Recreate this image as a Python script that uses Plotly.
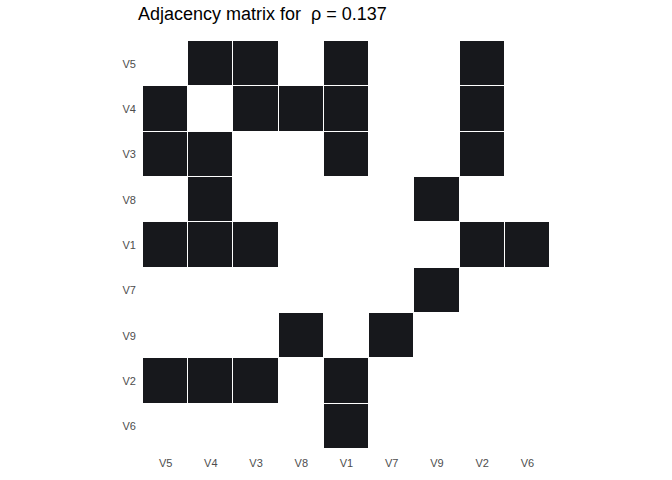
import plotly.graph_objects as go

labels = ["V5", "V4", "V3", "V8", "V1", "V7", "V9", "V2", "V6"]
# rows top-to-bottom, columns left-to-right (1 = edge)
adj = [
    [0, 1, 1, 0, 1, 0, 0, 1, 0],  # V5
    [1, 0, 1, 1, 1, 0, 0, 1, 0],  # V4
    [1, 1, 0, 0, 1, 0, 0, 1, 0],  # V3
    [0, 1, 0, 0, 0, 0, 1, 0, 0],  # V8
    [1, 1, 1, 0, 0, 0, 0, 1, 1],  # V1
    [0, 0, 0, 0, 0, 0, 1, 0, 0],  # V7
    [0, 0, 0, 1, 0, 1, 0, 0, 0],  # V9
    [1, 1, 1, 0, 1, 0, 0, 0, 0],  # V2
    [0, 0, 0, 0, 1, 0, 0, 0, 0],  # V6
]
rho = 0.137

fig = go.Figure(go.Heatmap(
    z=adj, x=labels, y=labels,
    colorscale=[[0, "#ffffff"], [1, "#17181c"]],
    zmin=0, zmax=1, showscale=False, xgap=1, ygap=1,
    hoverinfo="skip",
))

fig.update_layout(
    width=672, height=480,
    margin=dict(l=143, r=122, t=41, b=31),
    paper_bgcolor="white", plot_bgcolor="white",
    title=dict(text=f"Adjacency matrix for  ρ = {rho}", x=138/672, xref="container",
               xanchor="left", y=1-14/480, yanchor="middle",
               font=dict(family="Liberation Sans, Arial, sans-serif", size=18, color="black")),
    font=dict(family="Liberation Sans, Arial, sans-serif"),
)
fig.update_xaxes(showgrid=False, zeroline=False, showline=False, ticks="",
                 tickfont=dict(size=11, color="#4d4d4d"), ticklabelstandoff=6,
                 constrain="domain")
fig.update_yaxes(showgrid=False, zeroline=False, showline=False, ticks="",
                 tickfont=dict(size=11, color="#4d4d4d"), autorange="reversed",
                 ticklabelstandoff=6)

fig.write_html("out.html")
